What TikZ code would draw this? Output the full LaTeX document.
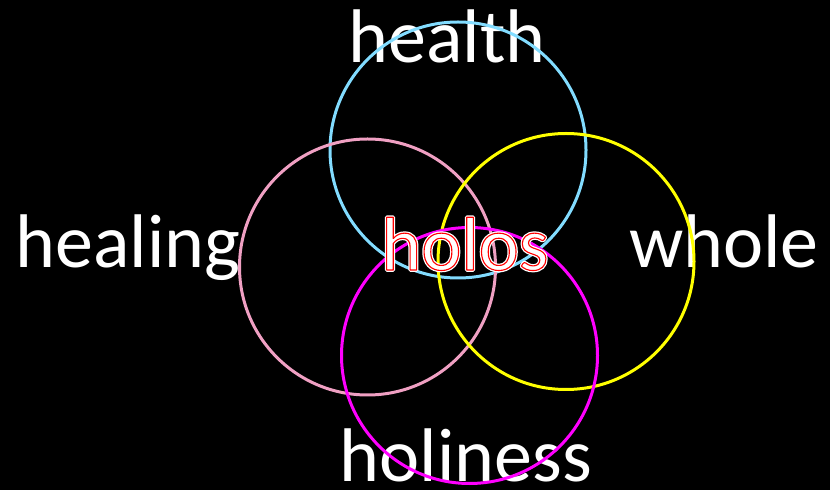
\documentclass[tikz,border=0pt]{standalone}
\usepackage{fontspec}
\setmainfont{Carlito}
\newcommand{\outlinedtext}[1]{%
  \special{pdf:code 1 Tr 1 j 3.6 w 1 1 1 RG}\rlap{#1}%
  \special{pdf:code 2 Tr 1 j 1.1 w 1 0 0 RG}#1%
  \special{pdf:code 0 Tr 1 w}}
\begin{document}
\begin{tikzpicture}[x=1pt,y=1pt,
  ring/.style={line width=3pt},
  lbl/.style={text=white,font=\fontsize{76}{76}\selectfont,anchor=base,inner sep=0pt}]
\fill[black] (0,0) rectangle (830,490);
\useasboundingbox (0,0) rectangle (830,490);
\node[lbl] (health) at (447,427) {health};
\node[lbl] (healing) at (128,222) {healing};
\node[lbl] (whole) at (724,222) {whole};
\node[lbl] (holiness) at (466,9) {holiness};
\draw[ring,draw={rgb,255:red,130;green,220;blue,255}] (458,340) circle[radius=128];
\draw[ring,draw={rgb,255:red,240;green,160;blue,195}] (367.5,223) circle[radius=128];
\draw[ring,draw={rgb,255:red,255;green,255;blue,0}] (566,228.5) circle[radius=128];
\draw[ring,draw={rgb,255:red,255;green,0;blue,255}] (469.5,134.5) circle[radius=128];
\node[lbl] (holos) at (465,220) {\outlinedtext{holos}};
\end{tikzpicture}
\end{document}
